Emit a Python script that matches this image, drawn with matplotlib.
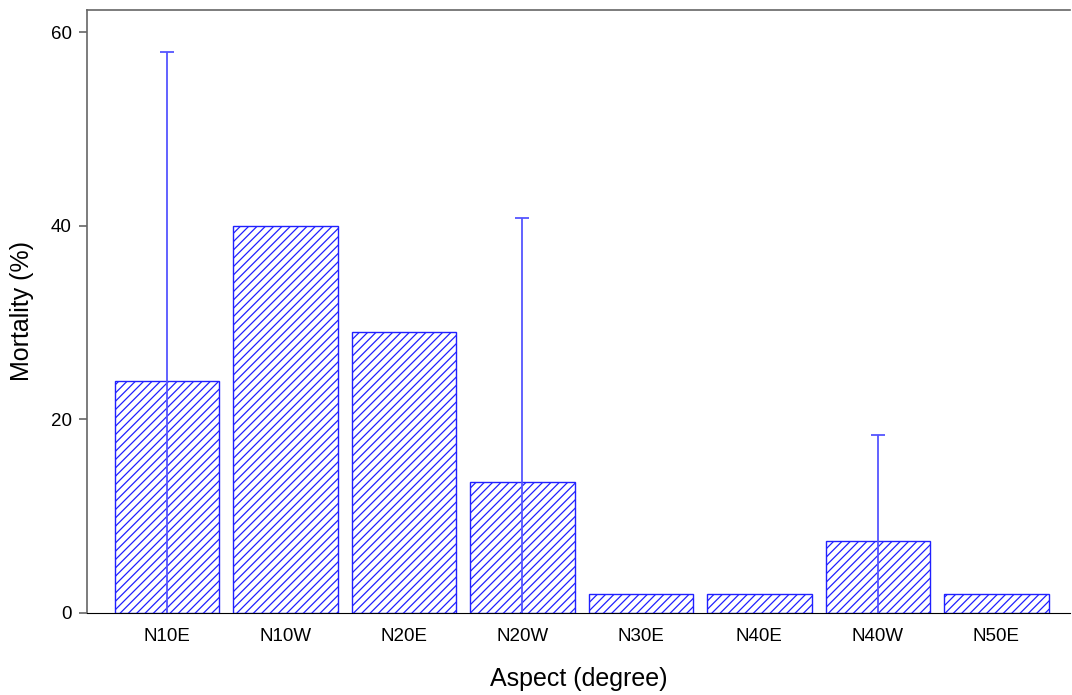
import numpy as np
import matplotlib.pyplot as plt

plt.rcParams['font.family'] = ['Liberation Sans', 'DejaVu Sans']
plt.rcParams['hatch.linewidth'] = 0.9
plt.rcParams['hatch.color'] = '#5050ff'

# mortality by slope aspect
aspects = ['N10E', 'N10W', 'N20E', 'N20W', 'N30E', 'N40E', 'N40W', 'N50E']
mortality = [24.0, 40.0, 29.0, 13.5, 2.0, 2.0, 7.4, 2.0]
mortality_err = [34.0, 0.0, 0.0, 27.3, 0.0, 0.0, 11.0, 0.0]

fig = plt.figure(figsize=(10.72, 6.95), dpi=100)
ax = fig.add_axes([0.0812, 0.118, 0.9168, 0.8676])

x = np.arange(len(aspects))
ax.bar(x, mortality, width=0.88, facecolor='white', edgecolor='#2020ff',
       linewidth=1.0, hatch='////')

# error bars only where a spread was measured
err = np.array(mortality_err)
has_err = err > 0
ax.errorbar(x[has_err], np.array(mortality)[has_err], yerr=err[has_err],
            fmt='none', ecolor='#5555ff', elinewidth=1.3, capsize=5,
            capthick=1.3)

ax.set_xlim(-0.675, 7.62)
ax.set_ylim(0, 62.3)
ax.set_yticks([0, 20, 40, 60])
ax.set_xticks(x)
ax.set_xticklabels(aspects)

ax.spines['right'].set_visible(False)
ax.spines['left'].set_color('#666666')
ax.spines['top'].set_color('#666666')
ax.spines['bottom'].set_color('black')
ax.spines['left'].set_linewidth(1.2)
ax.spines['top'].set_linewidth(1.2)

ax.tick_params(axis='x', length=0, pad=11, labelsize=13.5)
ax.tick_params(axis='y', length=6, color='#666666', width=1.2, labelsize=13.5, pad=5)

ax.set_xlabel('Aspect (degree)', fontsize=18, labelpad=16)
ax.set_ylabel('Mortality (%)', fontsize=18, labelpad=12)

fig.savefig('out.png', dpi=100)
